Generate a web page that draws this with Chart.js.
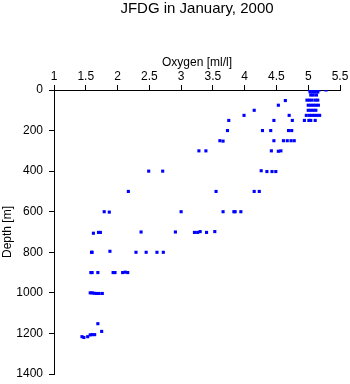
<!DOCTYPE html>
<html>
<head>
<meta charset="utf-8">
<script src="https://cdn.jsdelivr.net/npm/chart.js@4.4.1/dist/chart.umd.min.js"></script>
<style>
  html, body { margin: 0; padding: 0; background: #fff; }
  #wrap { width: 350px; height: 384px; }
</style>
</head>
<body>
<div id="wrap"><canvas id="c"></canvas></div>
<script>
// oxygen [ml/l] and depth [m] of each sample
const oxygen = [
  5.02, 5.05, 5.08, 5.11, 5.14, 5.17, 5.28,
  5.03, 5.07, 5.11, 5.15,
  5.04, 5.08, 5.13,
  4.64, 4.98, 5.02, 5.06, 5.11, 5.15,
  4.53, 5.00, 5.04, 5.08, 5.12, 5.16,
  4.15, 5.00, 5.04, 5.08, 5.12,
  3.99, 4.70, 4.97, 5.02, 5.06, 5.10, 5.14, 5.18,
  3.75, 4.46, 4.75, 4.94, 5.01, 5.04, 5.11,
  3.73, 4.28, 4.41, 4.69, 4.74,
  3.61, 3.66, 4.46, 4.61, 4.67, 4.73, 4.78,
  3.28, 3.39, 4.42, 4.53, 4.57,
  2.49, 2.71, 4.26, 4.35, 4.43, 4.49,
  2.17, 3.55, 4.15, 4.23,
  1.79, 1.87, 3.00, 3.66, 3.83, 3.85, 3.94,
  1.62, 1.70, 1.73, 2.37, 2.91, 3.21, 3.26, 3.30, 3.40, 3.53,
  1.59, 1.60, 1.88, 2.29, 2.45, 2.62, 2.72,
  1.58, 1.60, 1.69, 1.93, 1.96, 2.08, 2.12, 2.16,
  1.57, 1.60, 1.63, 1.67, 1.71, 1.76,
  1.69, 1.75,
  1.44, 1.47, 1.53, 1.57, 1.60, 1.64
];
const depth = [
  0, 0, 0, 0, 0, 0, 0,
  10, 10, 10, 10,
  25, 25, 25,
  52, 50, 50, 50, 50, 50,
  75, 75, 75, 75, 75, 75,
  100, 100, 100, 100, 100,
  125, 125, 125, 125, 125, 125, 125, 125,
  150, 150, 150, 150, 150, 150, 150,
  200, 200, 200, 200, 200,
  250, 252, 250, 250, 250, 250, 250,
  300, 300, 300, 302, 300,
  400, 400, 398, 402, 402, 402,
  500, 500, 500, 500,
  600, 602, 600, 600, 600, 600, 600,
  706, 702, 702, 700, 700, 702, 702, 698, 702, 698,
  800, 800, 795, 800, 800, 800, 800,
  900, 900, 900, 900, 900, 900, 898, 900,
  1000, 1000, 1002, 1003, 1003, 1003,
  1152, 1190,
  1216, 1220, 1216, 1207, 1206, 1206
];
const oxygenTicks = [1, 1.5, 2, 2.5, 3, 3.5, 4, 4.5, 5, 5.5];
const depthTicks = [0, 200, 400, 600, 800, 1000, 1200, 1400];

const points = oxygen.map((o, i) => ({ x: o, y: depth[i] }));
const font = 'Liberation Sans, Arial, sans-serif';

new Chart(document.getElementById('c'), {
  type: 'scatter',
  data: {
    datasets: [{
      data: points,
      pointStyle: 'rect',
      pointRadius: 2.2,
      borderWidth: 0,
      backgroundColor: '#0000ff',
      borderColor: '#0000ff'
    }]
  },
  options: {
    responsive: true,
    maintainAspectRatio: false,
    animation: false,
    layout: { padding: { left: 0, right: 10, top: 0, bottom: 10 } },
    scales: {
      x: {
        position: 'top',
        min: 1,
        max: 5.5,
        afterBuildTicks: s => { s.ticks = oxygenTicks.map(v => ({ value: v })); },
        afterFit: s => { s.height = 72; },
        title: {
          display: true,
          text: 'Oxygen [ml/l]',
          color: '#000',
          font: { family: font, size: 12 },
          padding: { top: 37, bottom: 0 }
        },
        grid: { drawOnChartArea: false, drawTicks: true, tickLength: 5, color: '#000' },
        border: { display: true, color: '#000', width: 1 },
        ticks: { color: '#000', font: { family: font, size: 12 }, padding: 1, maxRotation: 0, callback: v => String(v) }
      },
      y: {
        reverse: true,
        min: 0,
        max: 1400,
        afterBuildTicks: s => { s.ticks = depthTicks.map(v => ({ value: v })); },
        afterFit: s => {
          s.width = 54;
          // let the layout padding alone decide where the plot ends
          s.paddingTop = 0;
          s.paddingBottom = 0;
        },
        title: {
          display: true,
          text: 'Depth [m]',
          color: '#000',
          font: { family: font, size: 12 },
          padding: 0
        },
        grid: { drawOnChartArea: false, drawTicks: true, tickLength: 5, color: '#000' },
        border: { display: true, color: '#000', width: 1 },
        ticks: { color: '#000', font: { family: font, size: 12 }, padding: 6, callback: v => String(v) }
      }
    },
    plugins: {
      legend: { display: false },
      tooltip: { enabled: false },
      title: {
        display: true,
        fullSize: false,
        text: 'JFDG in January, 2000',
        color: '#000',
        font: { family: font, size: 15, weight: 'normal' },
        padding: { top: 0, bottom: 0 }
      }
    }
  }
});
</script>
</body>
</html>
